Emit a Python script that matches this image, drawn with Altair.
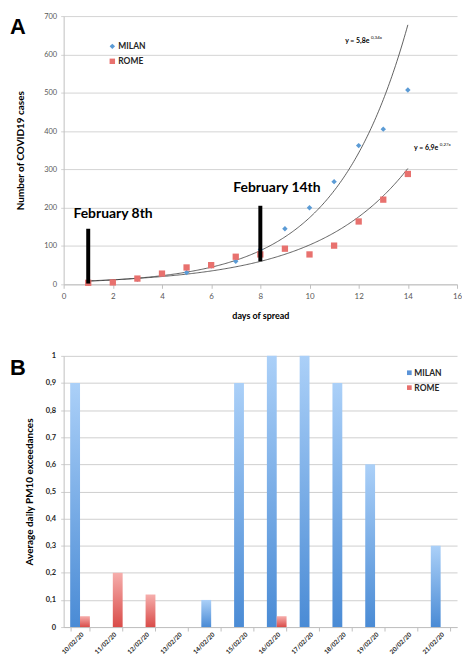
import altair as alt
import pandas as pd

FONT = "Lato"

# ---------------- Panel A data ----------------
days = list(range(1, 15))
milan_cases = [3, 5, 13, 26, 31, 48, 60, 91, 145, 200, 268, 362, 405, 507]
rome_cases = [4, 5, 15, 28, 44, 50, 72, 78, 93, 78, 101, 164, 221, 288]
cities = ["MILAN", "ROME"]
fit_a = [5.8, 6.9]
fit_b = [0.34, 0.27]
fit_text = ["y = 5,8e", "y = 6,9e"]
fit_exp = ["0,34x", "0,27x"]
fit_text_x = [11.45, 14.25]
fit_text_y = [636, 356]
event_text = ["February 8th", "February 14th"]
event_day = [1, 8]
event_low = [2, 60]
event_high = [145, 205]
event_text_x = [0.4, 6.9]
event_text_y = [184, 252]
legend_a_x = [1.98, 1.98]
legend_a_y = [621, 582]
x_ticks = [0, 2, 4, 6, 8, 10, 12, 14, 16]
y_ticks = [0, 100, 200, 300, 400, 500, 600, 700]

# ---------------- Panel B data ----------------
dates = ["10/02/20", "11/02/20", "12/02/20", "13/02/20", "14/02/20", "15/02/20",
         "16/02/20", "17/02/20", "18/02/20", "19/02/20", "20/02/20", "21/02/20"]
milan_pm10 = [0.9, 0, 0, 0, 0.1, 0.9, 1.0, 1.0, 0.9, 0.6, 0, 0.3]
rome_pm10 = [0.04, 0.2, 0.12, 0, 0, 0, 0.04, 0, 0, 0, 0, 0]
pm_ticks = [0, 0.1, 0.2, 0.3, 0.4, 0.5, 0.6, 0.7, 0.8, 0.9, 1]
legend_b_y = [17, 32]

BLUE = "#5b9bd5"
RED = "#e8716e"
W = 396

# ---------------- Panel A ----------------
def xa(field):
    return alt.X(field, type="quantitative",
                 scale=alt.Scale(domain=[0, 16], nice=False, zero=False),
                 axis=alt.Axis(values=x_ticks, grid=False, title="days of spread",
                               titleFont=FONT, titleFontSize=9, titleFontWeight="bold",
                               titleColor="black", titlePadding=11,
                               labelFont=FONT, labelFontSize=8, labelColor="#595959",
                               labelPadding=4, tickSize=4, tickColor="#bfbfbf",
                               domainColor="#bfbfbf", labelFlush=False))

def ya(field):
    return alt.Y(field, type="quantitative",
                 scale=alt.Scale(domain=[0, 700], nice=False),
                 axis=alt.Axis(values=y_ticks, grid=True, gridColor="#d4d4d4",
                               title="Number of COVID19 cases",
                               titleFont=FONT, titleFontSize=10, titleFontWeight="bold",
                               titleColor="black", titlePadding=18,
                               labelFont=FONT, labelFontSize=7.5, labelColor="#595959",
                               labelPadding=4, tickSize=3, tickColor="#d4d4d4",
                               domainColor="#bfbfbf"))

milan_df = pd.DataFrame({"day": days, "cases": milan_cases})
rome_df = pd.DataFrame({"day": days, "cases": rome_cases})

fit_layers = []
for i in range(len(cities)):
    fit_layers.append(
        alt.Chart(alt.sequence(1, 14.001, 0.05, as_="t"))
        .transform_calculate(v=f"{fit_a[i]}*exp({fit_b[i]}*datum.t)")
        .mark_line(color="#3a3a3a", strokeWidth=0.8)
        .encode(x=xa("t"), y=ya("v"))
    )

milan_pts = alt.Chart(milan_df).mark_point(shape="diamond", filled=True, size=30,
                                            color=BLUE, opacity=1).encode(x=xa("day"), y=ya("cases"))
rome_pts = alt.Chart(rome_df).mark_point(shape="square", filled=True, size=40,
                                          color=RED, opacity=1).encode(x=xa("day"), y=ya("cases"))

event_df = pd.DataFrame({"day": event_day, "low": event_low, "high": event_high,
                         "label": event_text, "lx": event_text_x, "ly": event_text_y})
event_rules = alt.Chart(event_df).mark_rule(strokeWidth=4, color="black").encode(
    x=xa("day"), y=ya("low"), y2="high")
event_labels = alt.Chart(event_df).mark_text(align="left", baseline="middle", fontSize=14,
                                             fontWeight="bold", font=FONT, color="black").encode(
    x=xa("lx"), y=ya("ly"), text="label:N")

fit_df = pd.DataFrame({"fx": fit_text_x, "fy": fit_text_y, "main": fit_text, "exp": fit_exp})
fit_main = alt.Chart(fit_df).mark_text(align="left", baseline="middle", fontSize=7,
                                       font=FONT, color="black", fontWeight="bold").encode(
    x=xa("fx"), y=ya("fy"), text="main:N")
fit_sup = alt.Chart(fit_df).mark_text(align="left", baseline="middle", fontSize=4.5,
                                      font=FONT, color="black", dx=26, dy=-3).encode(
    x=xa("fx"), y=ya("fy"), text="exp:N")

leg_df = pd.DataFrame({"lx": legend_a_x, "ly": legend_a_y, "city": cities})
leg_milan = alt.Chart(leg_df.iloc[[0]]).mark_point(shape="diamond", filled=True, size=30,
                                                   color=BLUE, opacity=1).encode(x=xa("lx"), y=ya("ly"))
leg_rome = alt.Chart(leg_df.iloc[[1]]).mark_point(shape="square", filled=True, size=30,
                                                  color=RED, opacity=1).encode(x=xa("lx"), y=ya("ly"))
leg_text = alt.Chart(leg_df).mark_text(align="left", baseline="middle", fontSize=8.5,
                                       fontWeight="bold", font=FONT, color="#262626", dx=6).encode(
    x=xa("lx"), y=ya("ly"), text="city:N")

letter_a = alt.Chart(pd.DataFrame({"t": ["A"]})).mark_text(
    align="left", baseline="alphabetic", fontSize=22, fontWeight="bold",
    font="Liberation Sans", color="black").encode(x=alt.value(-54), y=alt.value(18), text="t:N")

panel_a = alt.layer(*fit_layers, milan_pts, rome_pts, event_rules, event_labels,
                    fit_main, fit_sup, leg_milan, leg_rome, leg_text, letter_a).properties(
    width=W, height=270)

# ---------------- Panel B ----------------
bar_df = pd.DataFrame({"date": dates * 2,
                       "city": ["MILAN"] * len(dates) + ["ROME"] * len(dates),
                       "value": milan_pm10 + rome_pm10})

xb = alt.X("date:N", sort=dates,
           scale=alt.Scale(domain=dates, paddingInner=0.4, paddingOuter=0.2),
           axis=alt.Axis(title=None, labelAngle=-45, labelFont=FONT, labelFontSize=6.3,
                         labelFontWeight="bold", labelColor="#262626", tickBand="extent",
                         tickSize=4, tickColor="#bfbfbf", domainColor="#bfbfbf",
                         labelPadding=0))
xo = alt.XOffset("city:N", scale=alt.Scale(domain=cities, paddingInner=0, paddingOuter=0))
yb = alt.Y("value:Q", scale=alt.Scale(domain=[0, 1], nice=False),
           axis=alt.Axis(values=pm_ticks, format="~g",
                         labelExpr="replace(datum.label, '.', ',')",
                         title="Average daily PM10 exceedances",
                         titleFont=FONT, titleFontSize=10, titleFontWeight="bold",
                         titleColor="black", titlePadding=11,
                         labelFont=FONT, labelFontSize=7.5, labelFontWeight="bold",
                         labelColor="#262626", labelPadding=5, tickSize=3,
                         tickColor="#cfcfcf", grid=True, gridColor="#cfcfcf",
                         domainColor="#bfbfbf"))

blue_grad = alt.LinearGradient(gradient="linear", x1=0, x2=0, y1=0, y2=1,
                               stops=[alt.GradientStop(color="#abd0f8", offset=0),
                                      alt.GradientStop(color="#4a8bd5", offset=1)])
red_grad = alt.LinearGradient(gradient="linear", x1=0, x2=0, y1=0, y2=1,
                              stops=[alt.GradientStop(color="#f6aeac", offset=0),
                                     alt.GradientStop(color="#d94c49", offset=1)])

bars_milan = alt.Chart(bar_df).transform_filter("datum.city == 'MILAN' && datum.value > 0").mark_bar(
    color=blue_grad).encode(x=xb, xOffset=xo, y=yb)
bars_rome = alt.Chart(bar_df).transform_filter("datum.city == 'ROME' && datum.value > 0").mark_bar(
    color=red_grad).encode(x=xb, xOffset=xo, y=yb)

legb_df = pd.DataFrame({"city": cities, "ly": legend_b_y})
legb_sq_m = alt.Chart(legb_df.iloc[[0]]).mark_square(size=22, color="#5b94d8", opacity=1).encode(
    x=alt.value(348), y=alt.Y("ly:Q", scale=None))
legb_sq_r = alt.Chart(legb_df.iloc[[1]]).mark_square(size=22, color="#e8706d", opacity=1).encode(
    x=alt.value(348), y=alt.Y("ly:Q", scale=None))
legb_text = alt.Chart(legb_df).mark_text(align="left", baseline="middle", fontSize=8.5,
                                         fontWeight="bold", font=FONT, color="#262626").encode(
    x=alt.value(353), y=alt.Y("ly:Q", scale=None), text="city:N")

letter_b = alt.Chart(pd.DataFrame({"t": ["B"]})).mark_text(
    align="left", baseline="alphabetic", fontSize=22, fontWeight="bold",
    font="Liberation Sans", color="black").encode(x=alt.value(-54), y=alt.value(19), text="t:N")

panel_b = alt.layer(bars_milan, bars_rome, legb_sq_m, legb_sq_r, legb_text, letter_b).properties(
    width=W, height=273)

chart = alt.vconcat(panel_a, panel_b, spacing=32).properties(
    padding={"left": 2, "top": 2, "right": 0, "bottom": 0}
).configure_view(stroke=None)

chart.save("out.html", embed_options={"renderer": "svg", "actions": False})
